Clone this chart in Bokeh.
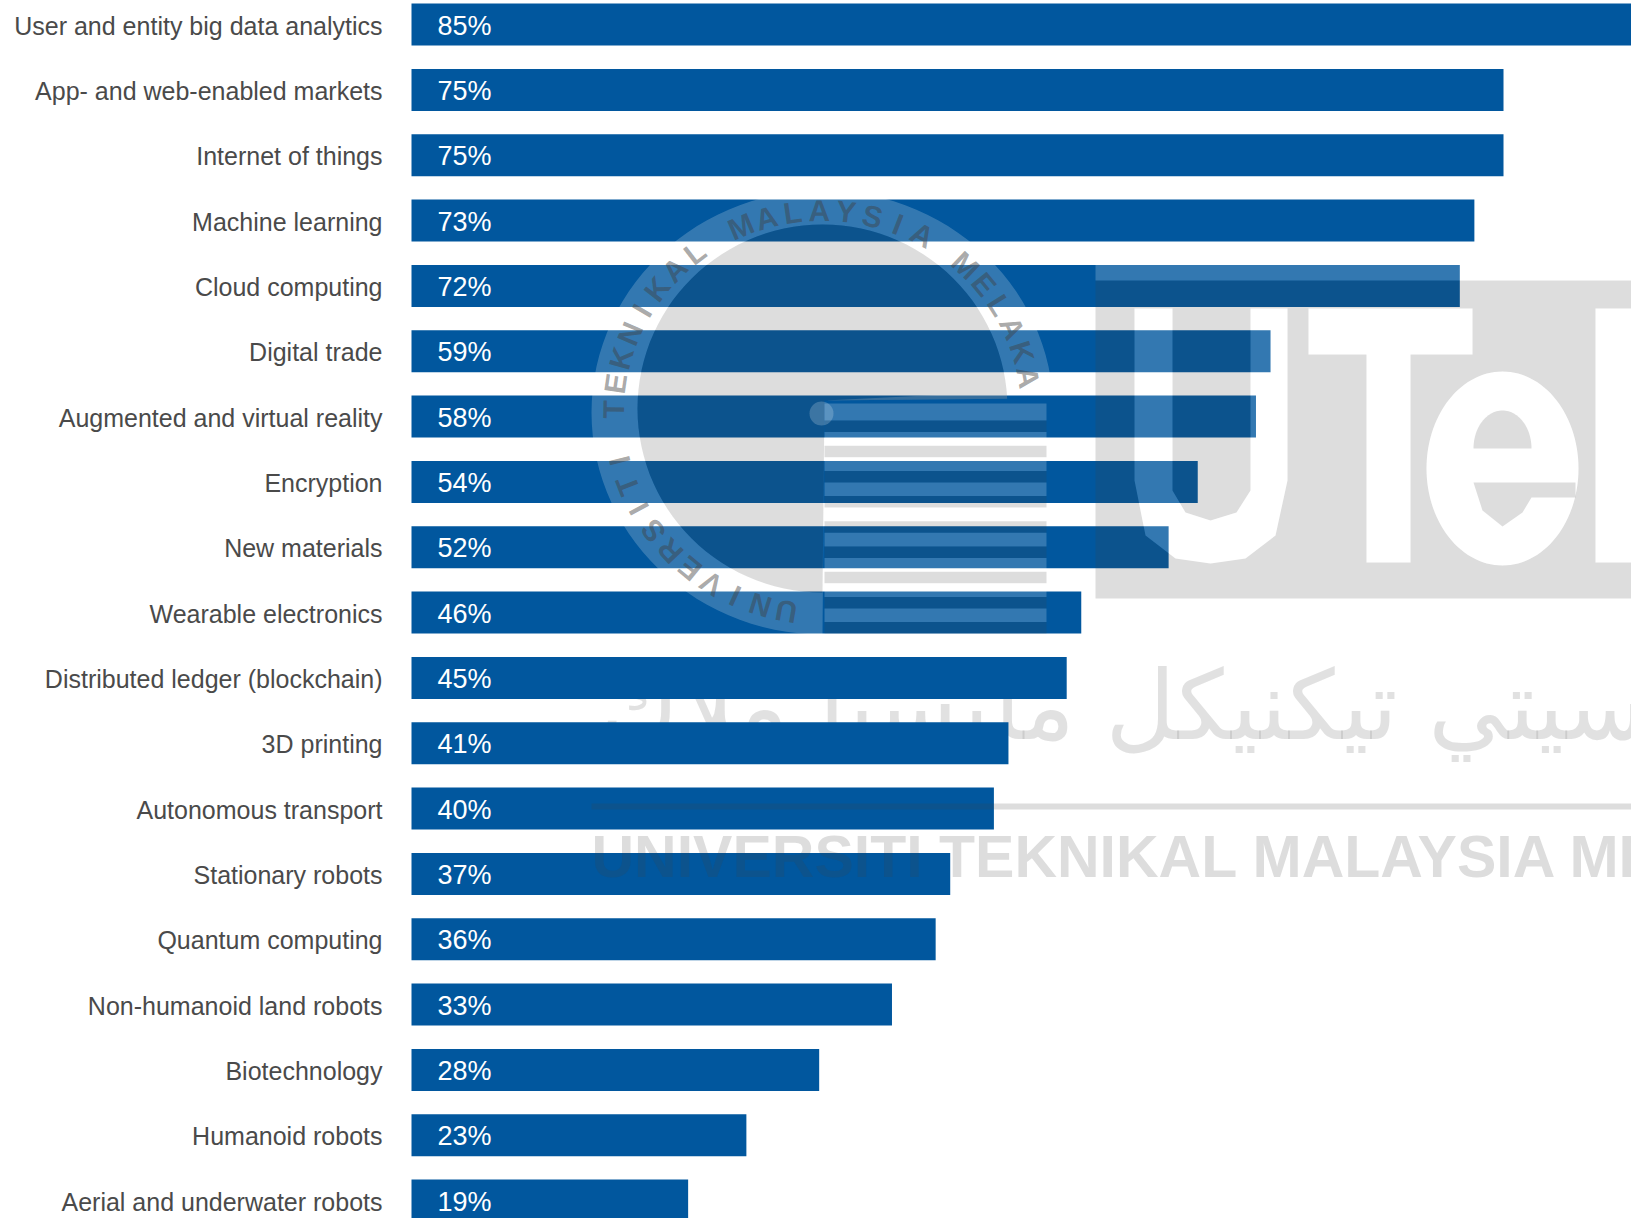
import numpy as np
from bokeh.plotting import figure
from bokeh.models import Range1d, ColumnDataSource
from bokeh.core.properties import value
from bokeh.embed import file_html
from bokeh.resources import INLINE

categories = ["User and entity big data analytics", "App- and web-enabled markets", "Internet of things",
              "Machine learning", "Cloud computing", "Digital trade", "Augmented and virtual reality",
              "Encryption", "New materials", "Wearable electronics", "Distributed ledger (blockchain)",
              "3D printing", "Autonomous transport", "Stationary robots", "Quantum computing",
              "Non-humanoid land robots", "Biotechnology", "Humanoid robots", "Aerial and underwater robots"]
shares = [85, 75, 75, 73, 72, 59, 58, 54, 52, 46, 45, 41, 40, 37, 36, 33, 28, 23, 19]

W, H = 1631, 1218
LEFT = 411
PX_PER_PCT = 14.56
PITCH = 65.33
FIRST = 24.1
BAR_H = 42

def X(px):
    return (np.asarray(px, dtype=float) - LEFT) / PX_PER_PCT

def Y(px):
    return (np.asarray(px, dtype=float) - FIRST) / PITCH

p = figure(width=W, height=H, output_backend="svg", toolbar_location=None,
           x_range=Range1d(float(X(0)), float(X(W))), y_range=Range1d(float(Y(H)), float(Y(0))),
           min_border_left=0, min_border_right=0, min_border_top=0, min_border_bottom=0,
           outline_line_color=None, background_fill_color="white")
p.grid.visible = False
p.xaxis.visible = False
p.yaxis.visible = False

def ell(cx, cy, rx, ry, n=120):
    t = np.linspace(0, 2 * np.pi, n, endpoint=False)
    return cx + rx * np.cos(t), cy + ry * np.sin(t)

def clip_quadrant(x, y):
    keep = ~((x > 824) & (y > 400))
    start = np.where(~keep)[0].max() + 1 if (~keep).any() else 0
    order = np.r_[start:len(x), 0:start]
    order = [i for i in order if keep[i]]
    return np.r_[x[order], 824], np.r_[y[order], 400]

def poly(xs, ys, holes=None, **kw):
    h = [[list(X(a)), list(Y(b))] for a, b in (holes or [])]
    hx = [i[0] for i in h]
    hy = [i[1] for i in h]
    p.multi_polygons(xs=[[[list(X(xs)), *hx]]], ys=[[[list(Y(ys)), *hy]]], line_color=None, **kw)

# Jawi name sits under the bars
p.text(x=[float(X(600))], y=[float(Y(705))], text=["يونيۏرسيتي تيكنيكل مليسيا ملاك"],
       text_color="#9a9a9a", text_alpha=0.3, text_font=value("DejaVu Sans"), text_font_size="96px",
       text_align="left", text_baseline="middle")

rows = list(range(len(categories)))
src = ColumnDataSource(dict(y=rows, v=shares, t=[f"{s}%" for s in shares], c=categories))
p.hbar(y="y", left=0, right="v", height=BAR_H / PITCH, source=src, fill_color="#01579e", line_color=None)

p.text(x=0, y="y", text="c", source=src, x_offset=-29, y_offset=1, text_color="#4a4a4a",
       text_font=value("Liberation Sans"), text_font_size="25px", text_align="right", text_baseline="middle")
p.text(x=0, y="y", text="t", source=src, x_offset=26, y_offset=1, text_color="white",
       text_font=value("Liberation Sans"), text_font_size="27px", text_align="left", text_baseline="middle")

# ---- university watermark over the chart (drawn in pixel positions of the page)
DARK, DARK_A = "#404040", 0.18
LIGHT_A = 0.2
CX, CY = 822, 412

ox, oy = clip_quadrant(*ell(CX, CY, 231, 222))
ix, iy = clip_quadrant(*ell(CX, CY - 4, 185, 184))
poly(ox, oy, holes=[(ix, iy)], fill_color="white", fill_alpha=LIGHT_A)
poly(ix, iy, fill_color=DARK, fill_alpha=DARK_A)

# flag stripes
prev = 403
for k in range(9):
    t = 420 + 25.2 * k
    poly([824, 1046, 1046, 824], [prev, prev, t, t], fill_color="white", fill_alpha=LIGHT_A)
    poly([824, 1046, 1046, 824], [t, t, t + 11.5, t + 11.5], fill_color=DARK, fill_alpha=DARK_A)
    prev = t + 11.5
bx, by = ell(821, 413, 12, 12, 40)
poly(bx, by, fill_color="white", fill_alpha=LIGHT_A)

# ring lettering
ring = "UNIVERSITI TEKNIKAL MALAYSIA MELAKA"
ang = np.radians(190 + np.arange(len(ring)) * 250 / (len(ring) - 1))
p.text(x=X(CX + 209 * np.sin(ang)), y=Y(CY - 202 * np.cos(ang)), text=list(ring), angle=list(-ang),
       text_color=DARK, text_alpha=0.45, text_font=value("Liberation Sans"), text_font_style="bold",
       text_font_size="30px", text_align="center", text_baseline="middle")

# logo block with cut-out letters
U = ([1134, 1172, 1172, 1185, 1210, 1236, 1250, 1250, 1287, 1287, 1275, 1245, 1210, 1175, 1145, 1134],
     [308, 308, 490, 512, 520, 512, 490, 308, 308, 480, 535, 558, 563, 558, 535, 480])
T = ([1308, 1472, 1472, 1410, 1410, 1366, 1366, 1308], [308, 308, 354, 354, 562, 562, 354, 354])
E = ell(1502, 468, 76, 97)
M = ([1595, 1631, 1631, 1595], [308, 308, 562, 562])
letters = [U, T, E, M]
poly([1095, 1631, 1631, 1095], [280, 280, 598, 598], holes=[(np.array(a), np.array(b)) for a, b in letters],
     fill_color=DARK, fill_alpha=DARK_A)
for a, b in letters:
    poly(a, b, fill_color="white", fill_alpha=LIGHT_A)
poly([1095, 1631, 1631, 1095], [263, 263, 280, 280], fill_color="white", fill_alpha=LIGHT_A)
ex, ey = ell(1502, 448, 29, 38)
poly(ex[ey <= 448], ey[ey <= 448], fill_color=DARK, fill_alpha=DARK_A)
poly([1473, 1575, 1575, 1531, 1522, 1502, 1482], [482, 482, 497, 497, 512, 526, 510],
     fill_color=DARK, fill_alpha=DARK_A)

# rule and Latin name
poly([591, 1631, 1631, 591], [803, 803, 809, 809], fill_color=DARK, fill_alpha=DARK_A)
p.text(x=[float(X(591))], y=[float(Y(856))], text=["UNIVERSITI TEKNIKAL MALAYSIA MELAKA"],
       text_color=DARK, text_alpha=DARK_A, text_font=value("Liberation Sans"), text_font_style="bold",
       text_font_size="59px", text_align="left", text_baseline="middle")

open("out.html", "w").write(file_html(p, INLINE))
